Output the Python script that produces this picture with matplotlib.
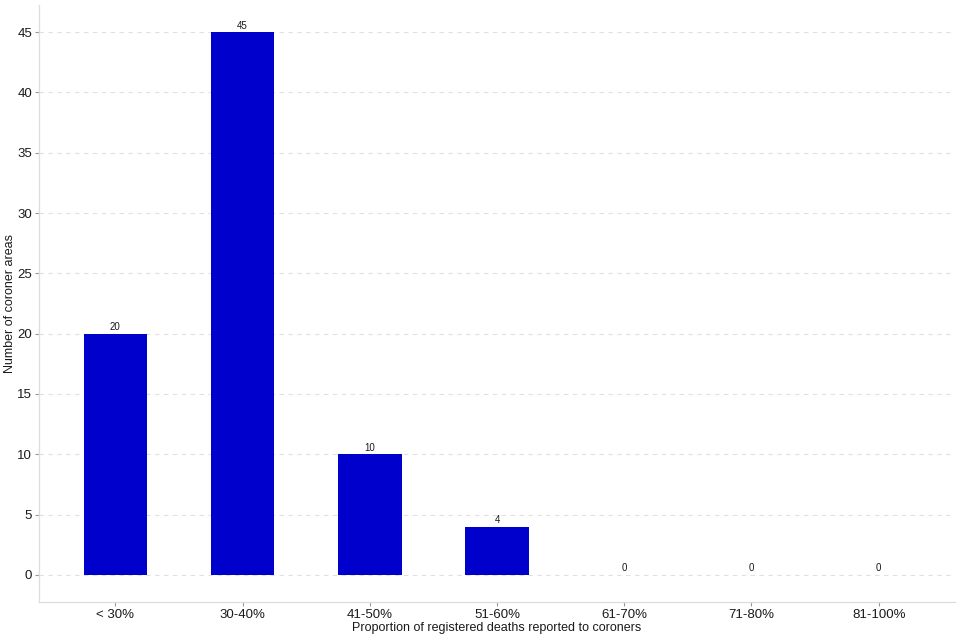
import matplotlib
matplotlib.use("Agg")
from matplotlib import pyplot as plt

plt.rcParams['font.family'] = ['Liberation Sans', 'DejaVu Sans']

categories = ["< 30%", "30-40%", "41-50%", "51-60%", "61-70%", "71-80%", "81-100%"]
counts = [20, 45, 10, 4, 0, 0, 0]
y_ticks = [0, 5, 10, 15, 20, 25, 30, 35, 40, 45]

fig = plt.figure(figsize=(9.6, 6.4), dpi=100)
ax = fig.add_axes([39 / 960, 38 / 640, 916 / 960, 597 / 640])

x = list(range(len(categories)))
bars = ax.bar(x, counts, width=0.5, color="#0000CD", zorder=3)
for xi, c in zip(x, counts):
    ax.text(xi, c + 0.12, str(c), ha="center", va="bottom", fontsize=7, color="#1a1a1a", zorder=4)

ax.set_xlim(-0.6, len(categories) - 1 + 0.6)
ax.set_ylim(-2.25, 47.25)
ax.set_xticks(x)
ax.set_xticklabels(categories, fontsize=9.5, color="#1a1a1a")
ax.set_yticks(y_ticks)
ax.set_yticklabels([str(t) for t in y_ticks], fontsize=9.5, color="#1a1a1a")
ax.yaxis.grid(True, linestyle=(0, (4, 4)), color="#e0e0e0", linewidth=0.8, zorder=0)
ax.tick_params(axis="both", length=3, color="#999999", width=0.8, pad=2)

for side in ["top", "right"]:
    ax.spines[side].set_visible(False)
for side in ["left", "bottom"]:
    ax.spines[side].set_color("#dddddd")
    ax.spines[side].set_linewidth(0.9)

ax.set_xlabel("Proportion of registered deaths reported to coroners", fontsize=9, color="#1a1a1a", labelpad=1)
ax.set_ylabel("Number of coroner areas", fontsize=9, color="#1a1a1a")
ax.yaxis.set_label_coords(-23 / 916, 0.5)

fig.savefig("out.png", dpi=100)
